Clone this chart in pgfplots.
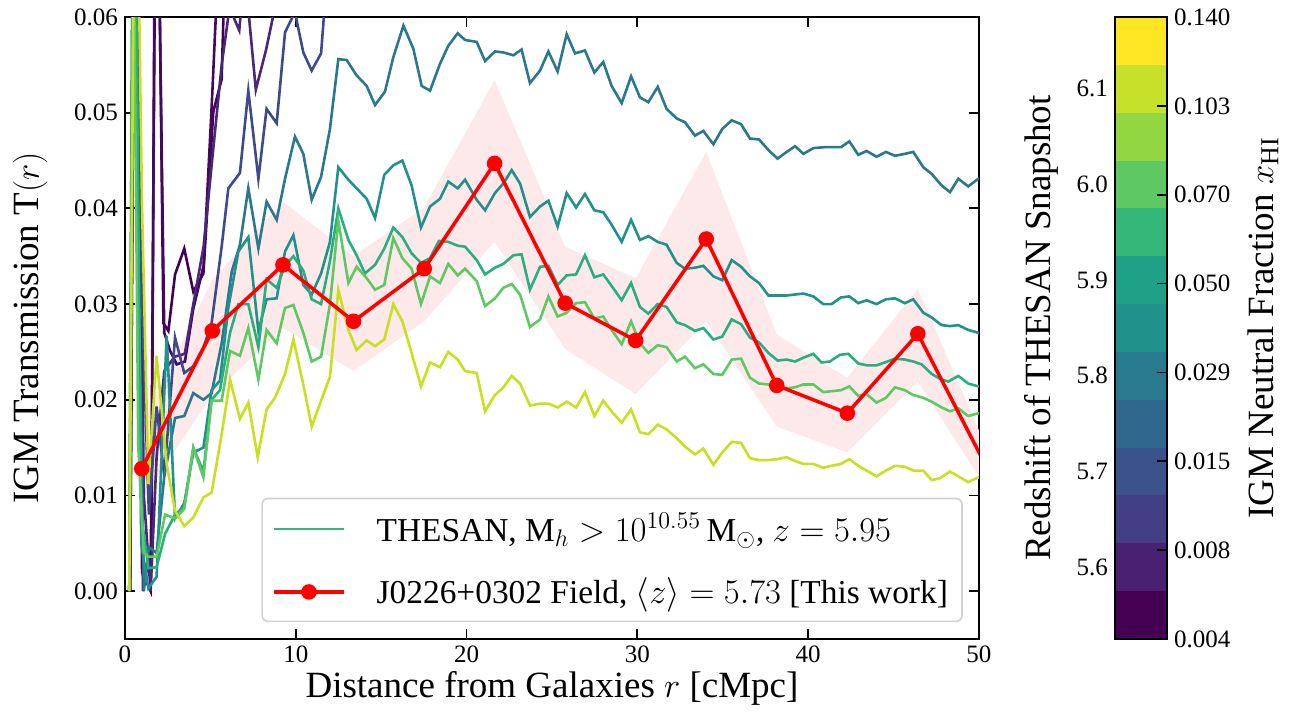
\documentclass[border=0pt]{standalone}
\usepackage{fontspec}
\setmainfont{Liberation Serif}
\usepackage{pgfplots}
\pgfplotsset{compat=1.18}
\usepgfplotslibrary{fillbetween}

\definecolor{vA}{HTML}{440154}
\definecolor{vB}{HTML}{46085C}
\definecolor{vC}{HTML}{482878}
\definecolor{vD}{HTML}{3E4A89}
\definecolor{lA}{HTML}{2A788E}
\definecolor{lB}{HTML}{21918C}
\definecolor{lC}{HTML}{29AF7F}
\definecolor{lD}{HTML}{5EC962}
\definecolor{lE}{HTML}{C8E020}
\definecolor{leg}{HTML}{35B779}
\definecolor{band}{HTML}{FDE8EA}
% colorbar bands, bottom to top
\definecolor{c0}{HTML}{440154}
\definecolor{c1}{HTML}{482173}
\definecolor{c2}{HTML}{433E85}
\definecolor{c3}{HTML}{3B528B}
\definecolor{c4}{HTML}{30678D}
\definecolor{c5}{HTML}{297A8E}
\definecolor{c6}{HTML}{21918C}
\definecolor{c7}{HTML}{1FA187}
\definecolor{c8}{HTML}{35B779}
\definecolor{c9}{HTML}{5EC962}
\definecolor{c10}{HTML}{92D642}
\definecolor{c11}{HTML}{C7E029}
\definecolor{c12}{HTML}{FDE725}

\newcommand\tickfont{\rmfamily\fontsize{12.5}{14}\selectfont}
\newcommand\labfont{\rmfamily\fontsize{18.5}{21}\selectfont}
\newcommand\legfont{\rmfamily\fontsize{16.7}{19}\selectfont}

\pgfplotsset{
  thesan/.style={line width=1.3pt, forget plot},
  cbar/.style={at={(495pt,0pt)}, anchor=south west, width=26pt, height=311pt,
    scale only axis, xmin=0, xmax=1, xtick=\empty, tick align=inside,
    major tick length=5pt, every tick/.style={black, line width=0.9pt},
    axis line style={line width=1pt}, tick label style={font=\tickfont},
    /pgf/number format/assume math mode=true,
    label style={font=\labfont}},
}

\begin{document}
\begin{tikzpicture}

\begin{axis}[
  at={(0pt,0pt)}, anchor=south west,
  width=427pt, height=311pt, scale only axis,
  xmin=0, xmax=50, ymin=-0.005, ymax=0.06,
  xtick={0,10,20,30,40,50},
  ytick={0,0.01,0.02,0.03,0.04,0.05,0.06},
  scaled y ticks=false,
  yticklabel style={/pgf/number format/.cd, fixed, fixed zerofill, precision=2, /tikz/.cd},
  /pgf/number format/assume math mode=true,
  tick label style={font=\tickfont},
  tick align=inside,
  major tick length=5pt,
  every tick/.style={black, line width=0.9pt},
  axis line style={line width=1.1pt},
  label style={font=\labfont},
  xlabel={Distance from Galaxies $r$ [cMpc]},
  ylabel={IGM Transmission T$(r)$},
  xlabel style={at={(axis description cs:0.5,-0.079)}, anchor=center},
  ylabel style={at={(axis description cs:-0.111,0.5)}, anchor=center},
  legend cell align=left,
  legend image code/.code={\draw[#1, mark repeat=2, mark phase=2] plot coordinates {(0pt,0pt) (17.5pt,0pt) (35pt,0pt)};},
  legend style={at={(0.981,0.027)}, anchor=south east, draw=black!18, line width=0.8pt,
    rounded corners=3pt, fill=white, font=\legfont, inner xsep=5pt, inner ysep=5.5pt,
    row sep=12.5pt, column sep=13.5pt},
]

% observed field uncertainty band
\addplot[name path=up, draw=none, forget plot] coordinates {
(0.98,0.0175) (5.11,0.0325) (9.25,0.0407) (13.38,0.0350) (17.52,0.0401) (21.64,0.0534) (25.77,0.0360) (29.9,0.0327) (34.03,0.0459) (38.16,0.0268) (42.29,0.0223) (46.42,0.0316) (50.55,0.0145)};
\addplot[name path=lo, draw=none, forget plot] coordinates {
(0.98,0.0095) (5.11,0.0205) (9.25,0.0275) (13.38,0.0230) (17.52,0.0282) (21.64,0.0365) (25.77,0.0253) (29.9,0.0206) (34.03,0.0282) (38.16,0.0172) (42.29,0.0145) (46.42,0.0219) (50.55,0.0104)};
\addplot[band, forget plot] fill between[of=up and lo];

% THESAN snapshots
\addplot[thesan, vA] coordinates {
(0.3,0) (0.55,0.09) (1.0,0.002) (1.5,0.0) (1.85,0.09) (2.25,0.028) (2.54,0.0272) (2.93,0.0331) (3.47,0.0358) (4.0,0.0313) (4.59,0.0332) (5.17,0.0501) (5.66,0.0535) (6.0,0.075)};
\addplot[thesan, vB] coordinates {
(0.3,0) (0.6,0.09) (1.05,0.0) (1.55,0.005) (1.8,0.09) (2.3,0.027) (2.64,0.0251) (3.03,0.0237) (3.51,0.0240) (4.0,0.0295) (4.6,0.034) (5.04,0.0494) (5.11,0.052) (5.7,0.075)};
\addplot[thesan, vC] coordinates {
(0.3,0) (0.6,0.09) (1.1,0.01) (1.5,0.0) (1.85,0.014) (2.3,0.023) (2.9,0.0245) (3.5,0.0248) (4.0,0.030) (4.6,0.036) (5.1,0.045) (5.66,0.055) (6.2,0.062) (6.4,0.0598) (6.69,0.0586) (7.0,0.065) (7.66,0.0524) (8.25,0.0565) (8.64,0.0598) (9.0,0.066)};
\addplot[thesan, vD] coordinates {
(0.3,0) (0.55,0.09) (1.0,0.03) (1.4,0.008) (1.85,0.0193) (2.3,0.012) (2.93,0.0265) (3.47,0.0228) (4.0,0.0235) (4.6,0.0255) (5.07,0.028) (5.66,0.036) (6.05,0.0421) (6.73,0.0437) (7.22,0.0523) (7.81,0.0431) (8.29,0.0504) (8.88,0.0489) (9.37,0.0584) (9.95,0.0605) (10.44,0.0563) (10.93,0.0544) (11.48,0.0562) (11.9,0.066)};
\addplot[thesan, lA] coordinates {
(0.25,0) (0.55,0.09) (0.8,0.033) (1.1,0.0) (1.4,0.0046) (1.85,0.0040) (2.3,0.012) (2.93,0.0181) (3.47,0.0183) (4.0,0.0207) (4.59,0.0200) (5.07,0.0207) (5.66,0.0259) (6.25,0.0334) (6.73,0.0362) (7.22,0.0421) (7.81,0.0358) (8.29,0.0407) (8.88,0.0388) (9.37,0.0431) (9.95,0.0475) (10.44,0.0457) (10.93,0.0409) (11.48,0.0433) (12.0,0.0483) (12.49,0.0556) (12.98,0.0555) (13.56,0.0539) (14.15,0.0528) (14.64,0.0508) (15.22,0.0522) (15.71,0.0558) (16.3,0.0591) (16.88,0.0567) (17.37,0.0528) (17.86,0.0523) (18.44,0.0551) (18.93,0.0570) (19.48,0.0583) (19.91,0.0576) (20.59,0.0574) (21.08,0.0554) (21.66,0.0564) (22.15,0.0563) (22.74,0.0560) (23.22,0.0566) (23.71,0.0531) (24.3,0.0544) (24.79,0.0564) (25.33,0.0543) (25.86,0.0582) (26.35,0.0562) (26.93,0.0565) (27.48,0.0542) (28.0,0.0553) (28.49,0.0528) (29.08,0.0510) (29.63,0.0538) (30.15,0.0516) (30.64,0.0511) (31.19,0.0527) (31.71,0.0504) (32.3,0.0494) (32.79,0.0490) (33.37,0.0476) (33.86,0.0481) (34.45,0.0467) (34.97,0.0483) (35.52,0.0492) (36.07,0.0488) (36.59,0.0473) (37.12,0.0472) (37.67,0.0461) (38.21,0.0452) (38.74,0.0459) (39.23,0.0465) (39.72,0.0457) (40.3,0.0463) (40.98,0.0464) (41.92,0.0464) (42.41,0.0470) (42.93,0.0456) (43.42,0.0460) (44.0,0.0454) (44.55,0.0459) (45.08,0.0455) (45.66,0.0457) (46.15,0.0459) (46.74,0.0443) (47.23,0.0436) (47.81,0.0424) (48.3,0.0417) (48.79,0.0431) (49.37,0.0423) (49.96,0.0431) (50.5,0.0428)};
\addplot[thesan, lB] coordinates {
(0.25,0) (0.5,0.09) (0.95,0.005) (1.37,0.0003) (1.85,0.0015) (2.44,0.0267) (2.93,0.0076) (3.47,0.0092) (4.0,0.0145) (4.59,0.0150) (5.07,0.021) (5.56,0.022) (6.05,0.0296) (6.64,0.0355) (7.22,0.0370) (7.81,0.0272) (8.29,0.0305) (8.88,0.0306) (9.37,0.0355) (9.86,0.0372) (10.44,0.0320) (10.93,0.0310) (11.48,0.0332) (12.0,0.0365) (12.49,0.0443) (13.08,0.0430) (13.56,0.0421) (14.15,0.0410) (14.64,0.0390) (15.18,0.0435) (15.71,0.0445) (16.24,0.0450) (16.78,0.0424) (17.33,0.0380) (17.86,0.0402) (18.44,0.0410) (18.93,0.0428) (19.48,0.0421) (19.91,0.0430) (20.59,0.0409) (21.08,0.0398) (21.66,0.0416) (22.15,0.0426) (22.64,0.0440) (23.13,0.0426) (23.71,0.0391) (24.3,0.0402) (24.79,0.0408) (25.33,0.0381) (25.86,0.0416) (26.41,0.0401) (26.93,0.0415) (27.48,0.0398) (28.0,0.0396) (28.49,0.0383) (29.08,0.0365) (29.63,0.0388) (30.15,0.0367) (30.64,0.0371) (31.19,0.0365) (31.71,0.0362) (32.3,0.0343) (32.79,0.0337) (33.37,0.0338) (33.86,0.0340) (34.45,0.0329) (34.97,0.0325) (35.52,0.0346) (36.07,0.0339) (36.59,0.0329) (37.12,0.0322) (37.67,0.0309) (38.21,0.0309) (38.74,0.0309) (39.23,0.0310) (39.72,0.0311) (40.3,0.0308) (40.88,0.0300) (41.37,0.0300) (41.92,0.0307) (42.41,0.0308) (42.93,0.0301) (43.42,0.0304) (44.0,0.0300) (44.55,0.0305) (45.08,0.0306) (45.66,0.0301) (46.15,0.0305) (46.74,0.0291) (47.23,0.0286) (47.81,0.0278) (48.3,0.0277) (48.79,0.0278) (49.37,0.0273) (49.96,0.0270) (50.5,0.0268)};
\addplot[thesan, lC] coordinates {
(0.25,0) (0.5,0.09) (0.95,0.008) (1.37,0.0024) (1.85,0.0025) (2.35,0.006) (2.93,0.0080) (3.47,0.0088) (4.0,0.0150) (4.59,0.0125) (5.07,0.020) (5.56,0.021) (6.15,0.027) (6.64,0.030) (7.22,0.0300) (7.81,0.0255) (8.29,0.0326) (8.88,0.0317) (9.37,0.0340) (9.86,0.0350) (10.44,0.0335) (10.93,0.0305) (11.48,0.0300) (12.0,0.0345) (12.49,0.0400) (13.08,0.0367) (13.56,0.0351) (14.05,0.0332) (14.64,0.0341) (15.18,0.0358) (15.71,0.0380) (16.24,0.0370) (16.78,0.0353) (17.33,0.0343) (17.86,0.0348) (18.38,0.0366) (18.93,0.0365) (19.48,0.0361) (19.91,0.0360) (20.59,0.0346) (21.08,0.0331) (21.66,0.0338) (22.15,0.0342) (22.74,0.0351) (23.22,0.0352) (23.71,0.0315) (24.3,0.0339) (24.79,0.0340) (25.33,0.0320) (25.86,0.0330) (26.41,0.0331) (26.93,0.0351) (27.48,0.0328) (28.0,0.0331) (28.53,0.0318) (29.08,0.0304) (29.63,0.0322) (30.15,0.0297) (30.64,0.0290) (31.19,0.0300) (31.71,0.0297) (32.3,0.0281) (32.79,0.0278) (33.37,0.0272) (33.86,0.0275) (34.45,0.0263) (34.97,0.0266) (35.52,0.0284) (36.07,0.0279) (36.59,0.0265) (37.12,0.0260) (37.67,0.0249) (38.21,0.0241) (38.74,0.0242) (39.23,0.0240) (39.72,0.0244) (40.3,0.0248) (40.78,0.0239) (41.27,0.0240) (41.86,0.0247) (42.35,0.0248) (42.93,0.0238) (43.42,0.0236) (44.0,0.0236) (44.49,0.0239) (45.08,0.0243) (45.66,0.0242) (46.15,0.0240) (46.64,0.0237) (47.23,0.0227) (47.71,0.0222) (48.2,0.0219) (48.79,0.0225) (49.37,0.0217) (49.96,0.0214) (50.5,0.0213)};
\addplot[thesan, lD] coordinates {
(0.25,0) (0.5,0.07) (0.78,0.015) (1.1,0.004) (1.37,0.0036) (1.85,0.0036) (2.35,0.008) (2.93,0.0076) (3.47,0.0086) (4.0,0.0150) (4.59,0.0119) (5.07,0.0199) (5.66,0.0199) (6.15,0.0251) (6.73,0.0246) (7.22,0.0275) (7.81,0.0221) (8.29,0.0273) (8.88,0.0259) (9.37,0.0296) (9.86,0.0299) (10.44,0.0270) (10.93,0.0240) (11.48,0.0245) (12.0,0.0300) (12.49,0.0387) (13.08,0.0322) (13.56,0.0339) (14.15,0.0327) (14.64,0.0315) (15.18,0.0320) (15.71,0.0369) (16.24,0.0348) (16.78,0.0337) (17.33,0.0300) (17.86,0.0329) (18.44,0.0322) (18.93,0.0342) (19.48,0.0330) (19.91,0.0337) (20.59,0.0324) (21.08,0.0298) (21.66,0.0306) (22.15,0.0317) (22.64,0.0321) (23.13,0.0310) (23.71,0.0276) (24.3,0.0284) (24.79,0.0308) (25.33,0.0287) (25.86,0.0291) (26.41,0.0301) (26.93,0.0302) (27.48,0.0285) (28.0,0.0287) (28.49,0.0273) (29.08,0.0258) (29.63,0.0282) (30.15,0.0259) (30.64,0.0249) (31.19,0.0257) (31.71,0.0255) (32.3,0.0240) (32.79,0.0245) (33.37,0.0233) (33.86,0.0237) (34.45,0.0227) (34.97,0.0226) (35.52,0.0242) (36.07,0.0243) (36.59,0.0223) (37.12,0.0217) (37.67,0.0216) (38.21,0.0210) (38.74,0.0212) (39.23,0.0213) (39.72,0.0216) (40.3,0.0216) (40.88,0.0208) (41.37,0.0209) (41.92,0.0210) (42.41,0.0214) (42.93,0.0204) (43.42,0.0206) (44.0,0.0197) (44.55,0.0202) (45.08,0.0213) (45.66,0.0210) (46.15,0.0205) (46.74,0.0202) (47.23,0.0198) (47.81,0.0192) (48.3,0.0188) (48.79,0.0191) (49.37,0.0183) (49.96,0.0186) (50.5,0.0185)};
\addplot[thesan, lE] coordinates {
(0.25,0.0) (0.6,0.09) (1.0,0.04) (1.37,0.0112) (1.85,0.0246) (2.44,0.0133) (2.93,0.0084) (3.47,0.0068) (4.0,0.0077) (4.59,0.0098) (5.07,0.0103) (5.66,0.0164) (6.15,0.0221) (6.73,0.0180) (7.22,0.0197) (7.77,0.0140) (8.29,0.0190) (8.78,0.0202) (9.37,0.0227) (9.86,0.0263) (10.44,0.0216) (10.93,0.0172) (11.48,0.0199) (12.0,0.0224) (12.49,0.0315) (13.08,0.0273) (13.56,0.0252) (14.15,0.0262) (14.64,0.0256) (15.18,0.0263) (15.71,0.0300) (16.24,0.0282) (16.78,0.0249) (17.33,0.0214) (17.86,0.0239) (18.44,0.0234) (18.93,0.0250) (19.48,0.0242) (19.91,0.0230) (20.59,0.0228) (21.08,0.0188) (21.66,0.0205) (22.15,0.0213) (22.64,0.0225) (23.13,0.0217) (23.71,0.0194) (24.3,0.0196) (24.79,0.0196) (25.33,0.0192) (25.86,0.0198) (26.41,0.0192) (26.93,0.0208) (27.48,0.0183) (28.0,0.0199) (28.53,0.0187) (29.08,0.0176) (29.63,0.0190) (30.15,0.0166) (30.64,0.0164) (31.19,0.0174) (31.71,0.0169) (32.3,0.0160) (32.79,0.0151) (33.37,0.0143) (33.86,0.0149) (34.45,0.0132) (34.97,0.0145) (35.52,0.0156) (36.07,0.0155) (36.59,0.0139) (37.12,0.0137) (37.67,0.0137) (38.21,0.0138) (38.74,0.0140) (39.23,0.0136) (39.72,0.0133) (40.3,0.0133) (40.88,0.0129) (41.37,0.0131) (41.92,0.0133) (42.41,0.0138) (42.93,0.0131) (43.42,0.0126) (44.0,0.0120) (44.55,0.0126) (45.08,0.0131) (45.66,0.0130) (46.15,0.0126) (46.74,0.0126) (47.23,0.0116) (47.71,0.0118) (48.3,0.0125) (48.79,0.0120) (49.37,0.0114) (49.96,0.0119) (50.5,0.0117)};

\addlegendimage{leg, line width=1.3pt}
\addlegendentry{THESAN, M$_h>10^{10.55}$\,M$_\odot$, $z=5.95$}

% observed field
\addplot[red, line width=1.75pt, mark=*, mark size=3pt, mark options={solid}] coordinates {
(0.98,0.0128) (5.11,0.0272) (9.25,0.0341) (13.38,0.0282) (17.52,0.0337) (21.64,0.0447) (25.77,0.0301) (29.9,0.0262) (34.03,0.0368) (38.16,0.0215) (42.29,0.0186) (46.42,0.0269) (50.55,0.0126)};
\addlegendentry{J0226+0302 Field, $\langle z\rangle=5.73$ [This work]}
\end{axis}

% colorbar: snapshot redshift on the left
\begin{axis}[cbar, ymin=5.525, ymax=6.175,
  ytick={5.6,5.7,5.8,5.9,6.0,6.1}, yticklabels={5.6,5.7,5.8,5.9,6.0,6.1},
  ytick pos=left,
  ylabel={Redshift of THESAN Snapshot},
  ylabel style={at={(axis description cs:-1.42,0.5)}, anchor=center}]
\addplot[fill=c0, draw=none] coordinates {(0,5.525) (1,5.525) (1,5.575) (0,5.575)} -- cycle;
\addplot[fill=c1, draw=none] coordinates {(0,5.575) (1,5.575) (1,5.625) (0,5.625)} -- cycle;
\addplot[fill=c2, draw=none] coordinates {(0,5.625) (1,5.625) (1,5.675) (0,5.675)} -- cycle;
\addplot[fill=c3, draw=none] coordinates {(0,5.675) (1,5.675) (1,5.725) (0,5.725)} -- cycle;
\addplot[fill=c4, draw=none] coordinates {(0,5.725) (1,5.725) (1,5.775) (0,5.775)} -- cycle;
\addplot[fill=c5, draw=none] coordinates {(0,5.775) (1,5.775) (1,5.825) (0,5.825)} -- cycle;
\addplot[fill=c6, draw=none] coordinates {(0,5.825) (1,5.825) (1,5.875) (0,5.875)} -- cycle;
\addplot[fill=c7, draw=none] coordinates {(0,5.875) (1,5.875) (1,5.925) (0,5.925)} -- cycle;
\addplot[fill=c8, draw=none] coordinates {(0,5.925) (1,5.925) (1,5.975) (0,5.975)} -- cycle;
\addplot[fill=c9, draw=none] coordinates {(0,5.975) (1,5.975) (1,6.025) (0,6.025)} -- cycle;
\addplot[fill=c10, draw=none] coordinates {(0,6.025) (1,6.025) (1,6.075) (0,6.075)} -- cycle;
\addplot[fill=c11, draw=none] coordinates {(0,6.075) (1,6.075) (1,6.125) (0,6.125)} -- cycle;
\addplot[fill=c12, draw=none] coordinates {(0,6.125) (1,6.125) (1,6.175) (0,6.175)} -- cycle;
\end{axis}

% colorbar: neutral fraction on the right
\begin{axis}[cbar, ymin=0, ymax=7,
  ytick={0,1,2,3,4,5,6,7},
  yticklabels={0.004,0.008,0.015,0.029,0.050,0.070,0.103,0.140},
  ytick pos=right, yticklabel pos=right,
  ylabel={IGM Neutral Fraction $x_{\mathrm{HI}}$},
  ylabel style={at={(axis description cs:2.846,0.5)}, anchor=center}]
\end{axis}

\pgfresetboundingbox
\path[use as bounding box] (-62.5pt,-40.5pt) rectangle (583pt,319.5pt);
\end{tikzpicture}
\end{document}
